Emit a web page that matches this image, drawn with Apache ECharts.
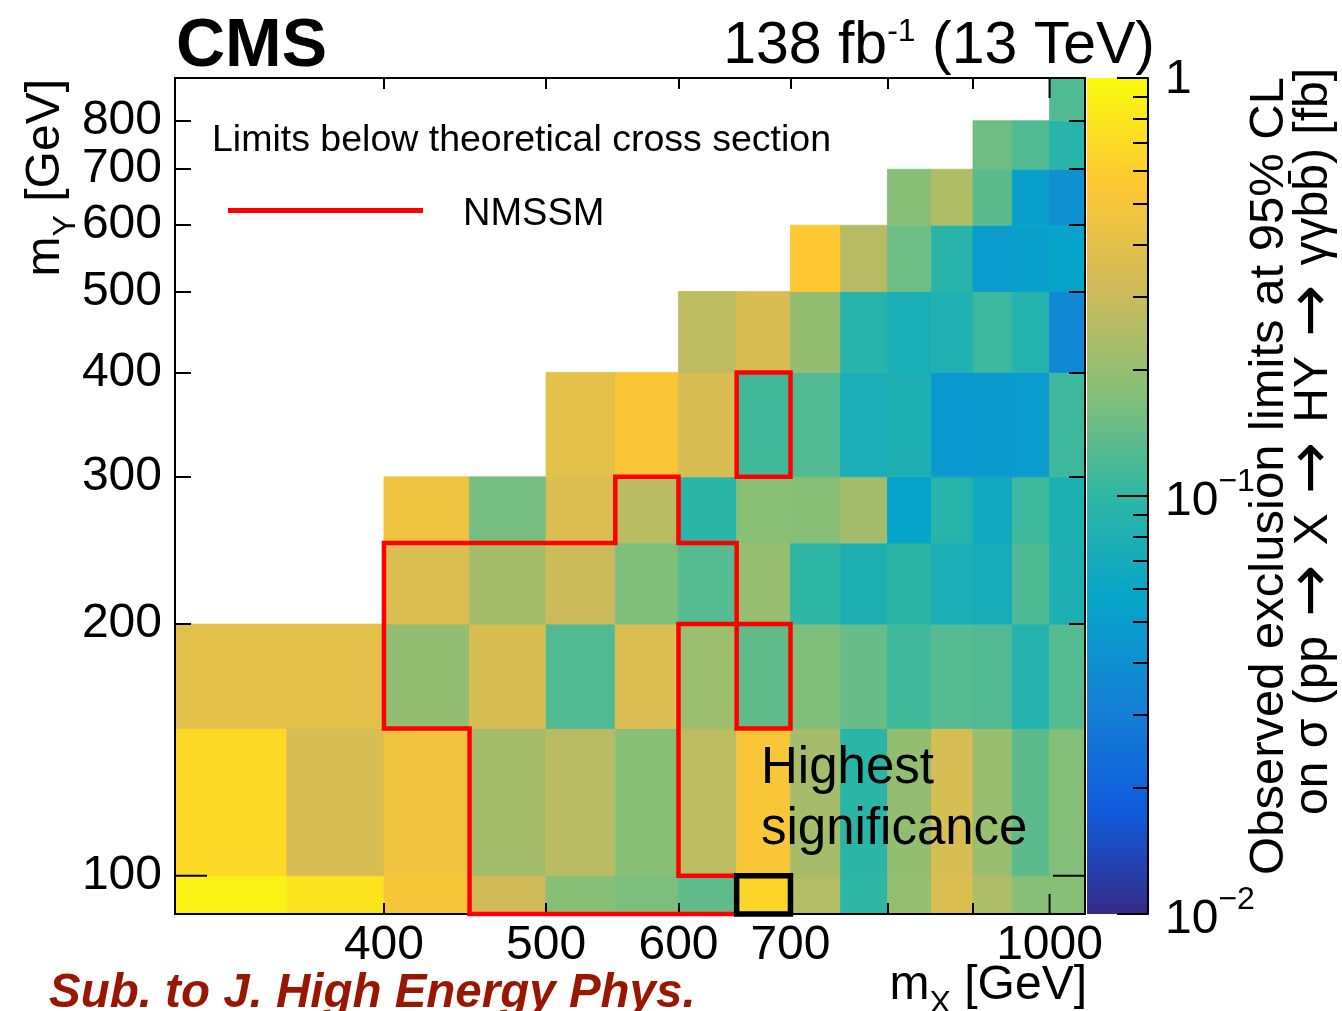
<!DOCTYPE html>
<html>
<head>
<meta charset="utf-8">
<title>CMS X → HY → γγbb̄ observed limits</title>
<script src="https://cdn.jsdelivr.net/npm/echarts@6/dist/echarts.min.js"></script>
<style>
  html, body { margin: 0; padding: 0; background: #ffffff; }
  #chart { width: 1342px; height: 1011px; }
</style>
</head>
<body>
<div id="chart"></div>
<script>
// ---- binning (GeV) ----
const mxEdges = [300, 350, 400, 450, 500, 550, 600, 650, 700, 750, 800, 850, 900, 950, 1000, 1050];
const myEdges = [90, 100, 150, 200, 250, 300, 400, 500, 600, 700, 800, 900];

// ---- observed 95% CL upper limits [fb], one list per mY bin, indexed by mX bin (null = no mass point) ----
const limitsMY90  = [0.904, 0.773, 0.513, 0.316, 0.178, 0.166, 0.138, 0.649, 0.251, 0.100, 0.200, 0.363, 0.240, 0.178, 0.178];
const limitsMY100 = [0.673, 0.347, 0.468, 0.224, 0.263, 0.178, 0.269, 0.525, 0.225, 0.0955, 0.195, 0.339, 0.204, 0.135, 0.174];
const limitsMY150 = [0.398, 0.398, 0.195, 0.347, 0.126, 0.355, 0.209, 0.138, 0.170, 0.145, 0.112, 0.129, 0.126, 0.0871, 0.129];
const limitsMY200 = [null, null, 0.363, 0.223, 0.302, 0.169, 0.129, 0.201, 0.100, 0.0794, 0.0955, 0.0759, 0.0724, 0.123, 0.0794];
const limitsMY250 = [null, null, 0.460, 0.158, 0.355, 0.263, 0.0955, 0.182, 0.178, 0.221, 0.0562, 0.0912, 0.0649, 0.110, 0.0794];
const limitsMY300 = [null, null, null, null, 0.393, 0.525, 0.347, 0.112, 0.125, 0.0759, 0.0794, 0.0470, 0.0479, 0.0490, 0.110];
const limitsMY400 = [null, null, null, null, null, null, 0.270, 0.347, 0.195, 0.0912, 0.0750, 0.0817, 0.109, 0.0871, 0.0355];
const limitsMY500 = [null, null, null, null, null, null, null, null, 0.562, 0.258, 0.151, 0.0912, 0.0492, 0.0525, 0.0562];
const limitsMY600 = [null, null, null, null, null, null, null, null, null, null, 0.178, 0.244, 0.134, 0.0527, 0.0406];
const limitsMY700 = [null, null, null, null, null, null, null, null, null, null, null, null, 0.152, 0.125, 0.0917];
const limitsMY800 = [null, null, null, null, null, null, null, null, null, null, null, null, null, null, 0.125];

const limitRows = [limitsMY90, limitsMY100, limitsMY150, limitsMY200, limitsMY250, limitsMY300,
                   limitsMY400, limitsMY500, limitsMY600, limitsMY700, limitsMY800];

// ---- axis ticks and labels ----
const mxRange = [300, 1050];
const myRange = [90, 900];
const zRange = [0.01, 1];
const xTickValues = [400, 500, 600, 700, 800, 900];
const xLabelValues = [400, 500, 600, 700, 1000];
const xDecadeTicks = [1000];
const yTickValues = [200, 300, 400, 500, 600, 700, 800];
const yLabelValues = [100, 200, 300, 400, 500, 600, 700, 800];
const yDecadeTicks = [100];
const zMinorTicks = [0.02, 0.03, 0.04, 0.05, 0.06, 0.07, 0.08, 0.09, 0.2, 0.3, 0.4, 0.5, 0.6, 0.7, 0.8, 0.9];
const zLabelValues = [0.01, 0.1, 1];
const zDecadeTicks = [0.01, 0.1, 1];

// ---- NMSSM region where the limit is below the theoretical cross section ----
const nmssmContourA = [[450, 90], [450, 150], [400, 150], [400, 250], [550, 250], [550, 300], [600, 300],
                       [600, 250], [650, 250], [650, 150], [700, 150], [700, 200], [600, 200], [600, 100],
                       [650, 100], [650, 90], [450, 90]];
const nmssmContourB = [[650, 300], [700, 300], [700, 400], [650, 400], [650, 300]];
// mass point with the highest local significance
const highestSigBox = [[650, 90], [700, 90], [700, 100], [650, 100], [650, 90]];

// ROOT "bird" palette, equally spaced stops
const birdPalette = ['#352a87', '#0f5cdd', '#1481d6', '#06a4ca', '#2eb7a4', '#87bf77', '#d1bb59', '#fec832', '#f9fb0e'];

const FONT = '"Liberation Sans", Arial, Helvetica, sans-serif';
const ARROW_FONT = '"DejaVu Sans", "Liberation Sans", sans-serif';
const NMSSM_RED = '#ff0000';

// cells: [x0, x1, y0, y1, limit, log10(limit)]
const cells = [];
limitRows.forEach(function (row, r) {
  row.forEach(function (v, c) {
    if (v != null) cells.push([mxEdges[c], mxEdges[c + 1], myEdges[r], myEdges[r + 1], v, Math.log10(v)]);
  });
});

const chart = echarts.init(document.getElementById('chart'), null, { renderer: 'canvas' });

function frameAxis(extra) {
  return Object.assign({
    z: 10,
    axisLine: { show: true, onZero: false, lineStyle: { color: '#000', width: 2 } },
    splitLine: { show: false },
    minorTick: { show: false },
    minorSplitLine: { show: false }
  }, extra);
}

const tickStyle = { color: '#000', width: 2 };

function plainText(x, y, text, size, extra) {
  return Object.assign({
    type: 'text', x: x, y: y, z: 20,
    style: Object.assign({
      text: text, fontSize: size, fontFamily: FONT, fill: '#000',
      align: 'left', verticalAlign: 'middle', textAlign: 'left', textVerticalAlign: 'middle'
    }, (extra && extra.style) || {})
  }, extra ? { rotation: extra.rotation || 0 } : {});
}

const option = {
  animation: false,
  backgroundColor: '#ffffff',
  textStyle: { fontFamily: FONT },
  grid: [
    { left: 175, top: 78, width: 910, height: 836, outerBoundsMode: 'none' },
    { left: 1087, top: 78, width: 61, height: 836, outerBoundsMode: 'none' }
  ],
  xAxis: [
    frameAxis({
      gridIndex: 0, type: 'log', min: mxRange[0], max: mxRange[1], position: 'bottom',
      axisTick: { show: true, inside: true, length: 11, customValues: xTickValues, lineStyle: tickStyle },
      axisLabel: {
        show: true, customValues: xLabelValues, margin: 8, color: '#000', fontSize: 48, fontFamily: FONT,
        formatter: function (v) { return String(Math.round(v)); }
      }
    }),
    frameAxis({
      gridIndex: 0, type: 'log', min: mxRange[0], max: mxRange[1], position: 'top',
      axisTick: { show: true, inside: true, length: 11, customValues: xTickValues, lineStyle: tickStyle },
      axisLabel: { show: false }
    }),
    { gridIndex: 1, type: 'value', min: 0, max: 1, show: false }
  ],
  yAxis: [
    frameAxis({
      gridIndex: 0, type: 'log', min: myRange[0], max: myRange[1], position: 'left',
      axisTick: { show: true, inside: true, length: 16, customValues: yTickValues, lineStyle: tickStyle },
      axisLabel: {
        show: true, customValues: yLabelValues, margin: 13, color: '#000', fontSize: 48, fontFamily: FONT,
        padding: [4, 0, 0, 0],
        formatter: function (v) { return String(Math.round(v)); }
      }
    }),
    frameAxis({
      gridIndex: 0, type: 'log', min: myRange[0], max: myRange[1], position: 'right',
      axisTick: { show: true, inside: true, length: 16, customValues: yTickValues, lineStyle: tickStyle },
      axisLabel: { show: false }
    }),
    frameAxis({
      gridIndex: 1, type: 'log', min: zRange[0], max: zRange[1], position: 'right',
      axisTick: { show: true, inside: true, length: 15, customValues: zMinorTicks, lineStyle: tickStyle },
      axisLabel: {
        show: true, customValues: zLabelValues, margin: 17, color: '#000', fontSize: 48, fontFamily: FONT,
        formatter: function (v) {
          const e = Math.round(Math.log10(v));
          return e === 0 ? '{one|1}' : '{base|10}{exp|\u2212' + (-e) + '}';
        },
        rich: {
          one: { fontSize: 48, fontFamily: FONT, color: '#000', padding: [4, 0, 0, 0] },
          base: { fontSize: 48, fontFamily: FONT, color: '#000', lineHeight: 60, verticalAlign: 'bottom' },
          exp: { fontSize: 32, fontFamily: FONT, color: '#000', verticalAlign: 'top' }
        }
      }
    })
  ],
  visualMap: {
    type: 'continuous', show: false, seriesIndex: 0, dimension: 5,
    min: Math.log10(zRange[0]), max: Math.log10(zRange[1]),
    inRange: { color: birdPalette }
  },
  series: [
    {
      // limit map
      type: 'custom', name: 'Observed limit', xAxisIndex: 0, yAxisIndex: 0, z: 2, silent: true,
      encode: { x: [0, 1], y: [2, 3] },
      data: cells,
      renderItem: function (params, api) {
        const p0 = api.coord([api.value(0), api.value(2)]);
        const p1 = api.coord([api.value(1), api.value(3)]);
        const color = api.visual('color');
        return {
          type: 'rect',
          shape: { x: p0[0], y: p1[1], width: p1[0] - p0[0], height: p0[1] - p1[1] },
          style: { fill: color, stroke: color, lineWidth: 0.8 }
        };
      }
    },
    {
      type: 'line', name: 'NMSSM', xAxisIndex: 0, yAxisIndex: 0, z: 12, silent: true, clip: false,
      symbol: 'none', data: nmssmContourA, color: NMSSM_RED,
      lineStyle: { color: NMSSM_RED, width: 4.5, join: 'miter', cap: 'square' }
    },
    {
      type: 'line', name: 'NMSSM', xAxisIndex: 0, yAxisIndex: 0, z: 12, silent: true, clip: false,
      symbol: 'none', data: nmssmContourB, color: NMSSM_RED,
      lineStyle: { color: NMSSM_RED, width: 4.5, join: 'miter', cap: 'square' }
    },
    {
      type: 'line', name: 'Highest significance', xAxisIndex: 0, yAxisIndex: 0, z: 13, silent: true, clip: false,
      symbol: 'none', data: highestSigBox, color: '#000',
      lineStyle: { color: '#000', width: 5.5, join: 'miter', cap: 'square' }
    },
    {
      // long ticks at decades on the mX axis (bottom and top)
      type: 'custom', xAxisIndex: 0, yAxisIndex: 0, z: 11, silent: true,
      data: xDecadeTicks.map(function (v) { return [v, myRange[0]]; }),
      renderItem: function (params, api) {
        const x = api.coord([api.value(0), api.value(1)])[0];
        const cs = params.coordSys;
        const st = { stroke: '#000', lineWidth: 2 };
        return { type: 'group', children: [
          { type: 'line', shape: { x1: x, y1: cs.y + cs.height, x2: x, y2: cs.y + cs.height - 20 }, style: st },
          { type: 'line', shape: { x1: x, y1: cs.y, x2: x, y2: cs.y + 20 }, style: st }
        ] };
      }
    },
    {
      // long ticks at decades on the mY axis (left and right)
      type: 'custom', xAxisIndex: 0, yAxisIndex: 0, z: 11, silent: true,
      data: yDecadeTicks.map(function (v) { return [mxRange[0], v]; }),
      renderItem: function (params, api) {
        const y = api.coord([api.value(0), api.value(1)])[1];
        const cs = params.coordSys;
        const st = { stroke: '#000', lineWidth: 2 };
        return { type: 'group', children: [
          { type: 'line', shape: { x1: cs.x, y1: y, x2: cs.x + 32, y2: y }, style: st },
          { type: 'line', shape: { x1: cs.x + cs.width, y1: y, x2: cs.x + cs.width - 32, y2: y }, style: st }
        ] };
      }
    },
    {
      // colour scale
      type: 'custom', xAxisIndex: 2, yAxisIndex: 2, z: 2, silent: true,
      data: [[0, zRange[0], 1, zRange[1]]],
      renderItem: function (params, api) {
        const p0 = api.coord([api.value(0), api.value(1)]);
        const p1 = api.coord([api.value(2), api.value(3)]);
        const stops = birdPalette.map(function (c, i) { return { offset: i / (birdPalette.length - 1), color: c }; });
        return {
          type: 'rect',
          shape: { x: p0[0], y: p1[1], width: p1[0] - p0[0], height: p0[1] - p1[1] },
          style: { fill: new echarts.graphic.LinearGradient(0, 1, 0, 0, stops) }
        };
      }
    },
    {
      // major ticks of the colour scale
      type: 'custom', xAxisIndex: 2, yAxisIndex: 2, z: 11, silent: true,
      data: zDecadeTicks.map(function (v) { return [1, v]; }),
      renderItem: function (params, api) {
        const p = api.coord([api.value(0), api.value(1)]);
        return { type: 'line', shape: { x1: p[0], y1: p[1], x2: p[0] - 31, y2: p[1] }, style: { stroke: '#000', lineWidth: 2 } };
      }
    }
  ],
  graphic: [
    plainText(176, 47.5, 'CMS', 68, { style: { fontWeight: 'bold' } }),
    { type: 'text', x: 1155, y: 46.5, z: 20, style: {
        text: '{m|138 fb}{s|-1}{m| (13 TeV)}', align: 'right', verticalAlign: 'middle', textAlign: 'right', textVerticalAlign: 'middle',
        fontFamily: FONT, fontSize: 59, fill: '#000',
        rich: {
          m: { fontSize: 59, fontFamily: FONT, fill: '#000', color: '#000', lineHeight: 60, verticalAlign: 'bottom' },
          s: { fontSize: 32, fontFamily: FONT, fill: '#000', color: '#000', verticalAlign: 'top' }
        } } },
    // legend header and entry
    plainText(212, 141, 'Limits below theoretical cross section', 37.5),
    { type: 'line', z: 20, shape: { x1: 228, y1: 210.5, x2: 423, y2: 210.5 }, style: { stroke: NMSSM_RED, lineWidth: 5 } },
    plainText(463, 215, 'NMSSM', 38),
    // annotation of the most significant mass point
    plainText(761, 768.5, 'Highest', 51),
    plainText(761, 829.5, 'significance', 51),
    // mX title
    { type: 'text', x: 1087, y: 991, z: 20, style: {
        text: '{m|m}{b|X}{m| [GeV]}', align: 'right', verticalAlign: 'middle', textAlign: 'right', textVerticalAlign: 'middle',
        fontFamily: FONT, fontSize: 48, fill: '#000',
        rich: {
          m: { fontSize: 48, fontFamily: FONT, fill: '#000', color: '#000', verticalAlign: 'top' },
          b: { fontSize: 32, fontFamily: FONT, fill: '#000', color: '#000', lineHeight: 58, verticalAlign: 'bottom' }
        } } },
    // mY title
    { type: 'text', x: 52, y: 79, rotation: Math.PI / 2, z: 20, style: {
        text: '{m|m}{b|Y}{m| [GeV]}', align: 'right', verticalAlign: 'middle', textAlign: 'right', textVerticalAlign: 'middle',
        fontFamily: FONT, fontSize: 48, fill: '#000',
        rich: {
          m: { fontSize: 48, fontFamily: FONT, fill: '#000', color: '#000', verticalAlign: 'top' },
          b: { fontSize: 32, fontFamily: FONT, fill: '#000', color: '#000', lineHeight: 60, verticalAlign: 'bottom' }
        } } },
    // colour scale title
    plainText(1269, 77, 'Observed exclusion limits at 95% CL', 49, { rotation: Math.PI / 2, style: { align: 'right', textAlign: 'right' } }),
    { type: 'text', x: 1314, y: 68, rotation: Math.PI / 2, z: 20, style: {
        text: '{t|on \u03c3 (pp }{a|\u2192}{t| X }{a|\u2192}{t| HY }{a|\u2192}{t| \u03b3\u03b3bb\u0304) [fb]}',
        align: 'right', verticalAlign: 'middle', textAlign: 'right', textVerticalAlign: 'middle',
        fontFamily: FONT, fontSize: 48, fill: '#000',
        rich: {
          t: { fontSize: 48, fontFamily: FONT, fill: '#000', color: '#000' },
          a: { fontSize: 62, fontFamily: ARROW_FONT, fill: '#000', color: '#000', padding: [0, 6, 0, 6] }
        } } },
    // journal status
    plainText(49, 994, 'Sub. to J. High Energy Phys.', 47.5, { style: { fontWeight: 'bold', fontStyle: 'italic', fill: '#991600' } })
  ]
};

chart.setOption(option);
</script>
</body>
</html>
